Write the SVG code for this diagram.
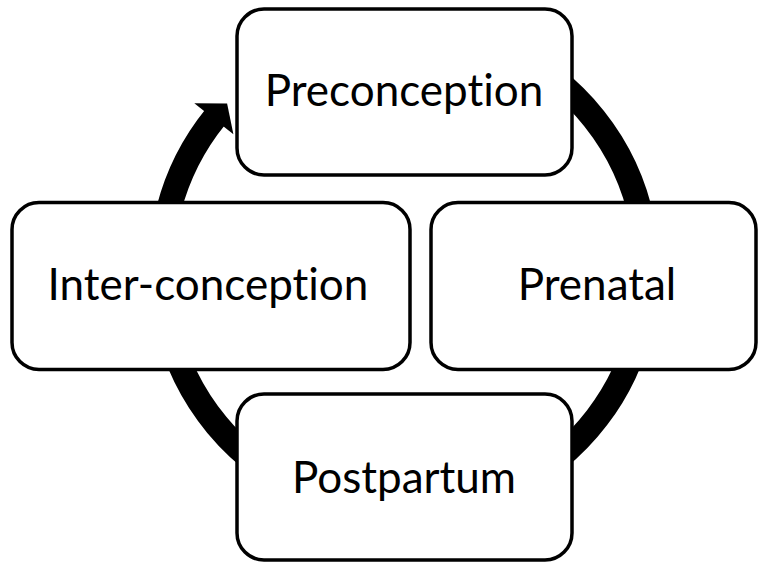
<svg xmlns="http://www.w3.org/2000/svg" width="758" height="566" viewBox="0 0 758 566">
  <style>
    .box { fill: #ffffff; stroke: #000000; stroke-width: 3.5; }
    .lbl { font-family: Lato, "Open Sans", "Liberation Sans", sans-serif; font-size: 44px; fill: #000000; text-anchor: middle; font-variant-ligatures: none; font-feature-settings: "liga" 0, "clig" 0; }
    .arc { fill: none; stroke: #000000; stroke-width: 25; }
  </style>
  <rect width="758" height="566" fill="#ffffff"/>
  <g id="connectors">
    <path class="arc" d="M 404 27 A 243 243 0 1 1 215.2 117.1"/>
    <polygon points="194.3,103.2 227.1,103.4 233.4,134.3" fill="#000000"/>
  </g>
  <g id="preconception">
    <rect class="box" x="237" y="9" width="335" height="166" rx="27" ry="27"/>
    <text class="lbl" x="404" y="106">Preconception</text>
  </g>
  <g id="inter-conception">
    <rect class="box" x="12" y="202.5" width="398" height="167" rx="27" ry="27"/>
    <text class="lbl" x="208" y="300">Inter-conception</text>
  </g>
  <g id="prenatal">
    <rect class="box" x="431" y="202.5" width="325" height="167" rx="27" ry="27"/>
    <text class="lbl" x="597" y="300">Prenatal</text>
  </g>
  <g id="postpartum">
    <rect class="box" x="237" y="394" width="335" height="166" rx="27" ry="27"/>
    <text class="lbl" x="404" y="493">Postpartum</text>
  </g>
</svg>
